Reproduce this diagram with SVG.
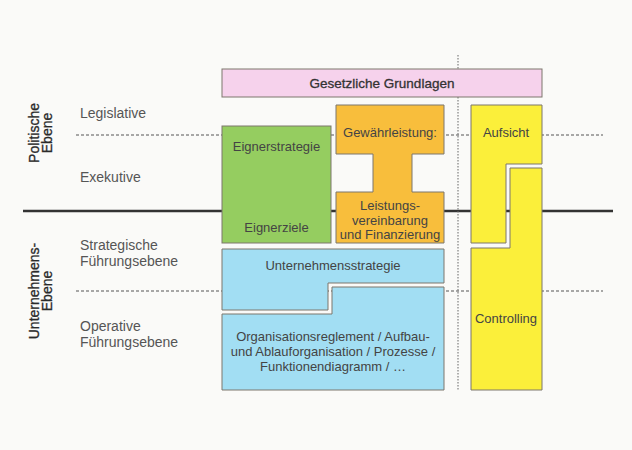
<svg xmlns="http://www.w3.org/2000/svg" width="632" height="450" viewBox="0 0 632 450">
<style>
text{font-family:"Liberation Sans",Arial,sans-serif}
.lbl{font-size:14px;fill:#555}
.vl{font-size:14px;fill:#2a2a2a;stroke:#2a2a2a;stroke-width:0.3;text-anchor:middle}
.bx{font-size:13px;fill:#444;text-anchor:middle}
.box{stroke:#7d776c;stroke-width:1}
.dash{stroke:#555;stroke-width:1;stroke-dasharray:3 2;fill:none}
</style>
<rect x="0" y="0" width="632" height="450" fill="#fafaf8"/>
<g id="connectors">
<line class="dash" x1="76" y1="135" x2="603" y2="135"/>
<line class="dash" x1="76" y1="291" x2="603" y2="291"/>
<line x1="23" y1="211" x2="613" y2="211" stroke="#333" stroke-width="2.5"/>
<line x1="458" y1="55" x2="458" y2="390" stroke="#666" stroke-width="1" stroke-dasharray="1.5 1.5"/>
</g>
<g id="labels">
<text class="lbl" x="80" y="118">Legislative</text>
<text class="lbl" x="80" y="182">Exekutive</text>
<text class="lbl" x="80" y="250">Strategische</text>
<text class="lbl" x="80" y="266">Führungsebene</text>
<text class="lbl" x="80" y="331">Operative</text>
<text class="lbl" x="80" y="347">Führungsebene</text>
<text class="vl" transform="translate(39,133) rotate(-90)">Politische</text>
<text class="vl" transform="translate(52,133) rotate(-90)">Ebene</text>
<text class="vl" transform="translate(39,291) rotate(-90)">Unternehmens-</text>
<text class="vl" transform="translate(52,291) rotate(-90)">Ebene</text>
</g>
<g id="gesetz">
<rect class="box" x="222" y="69" width="320" height="28" fill="#f6d2ec"/>
<text x="382" y="88" font-size="13.5" fill="#333" stroke="#333" stroke-width="0.3" text-anchor="middle">Gesetzliche Grundlagen</text>
</g>
<g id="eigner">
<rect class="box" x="222" y="126" width="109" height="117" fill="#95cd60"/>
<text class="bx" x="276.5" y="151">Eignerstrategie</text>
<text class="bx" x="276.5" y="232">Eignerziele</text>
</g>
<g id="gewaehr">
<path class="box" d="M336,105 H444 V154 H412 V192 H444 V243 H336 V192 H373 V154 H336 Z" fill="#f8be3c"/>
<text class="bx" x="390" y="137">Gewährleistung:</text>
<text class="bx" x="390" y="210">Leistungs-</text>
<text class="bx" x="390" y="224.5">vereinbarung</text>
<text class="bx" x="390" y="239">und Finanzierung</text>
</g>
<g id="aufsicht">
<path class="box" d="M471,105 H542 V164 H506 V243 H471 Z" fill="#fbef3a"/>
<text class="bx" x="506" y="137">Aufsicht</text>
</g>
<g id="controlling">
<path class="box" d="M510,168 H542 V390 H471 V248 H510 Z" fill="#fbef3a"/>
<text class="bx" x="506" y="323">Controlling</text>
</g>
<g id="unternehmensstrategie">
<path class="box" d="M222,249 H444 V283 H328 V310 H222 Z" fill="#a2def3"/>
<text class="bx" x="333" y="270">Unternehmensstrategie</text>
</g>
<g id="organisation">
<path class="box" d="M332,287 H444 V390 H222 V314 H332 Z" fill="#a2def3"/>
<text class="bx" x="333" y="341">Organisationsreglement / Aufbau-</text>
<text class="bx" x="333" y="356">und Ablauforganisation / Prozesse /</text>
<text class="bx" x="333" y="371">Funktionendiagramm / …</text>
</g>
</svg>
